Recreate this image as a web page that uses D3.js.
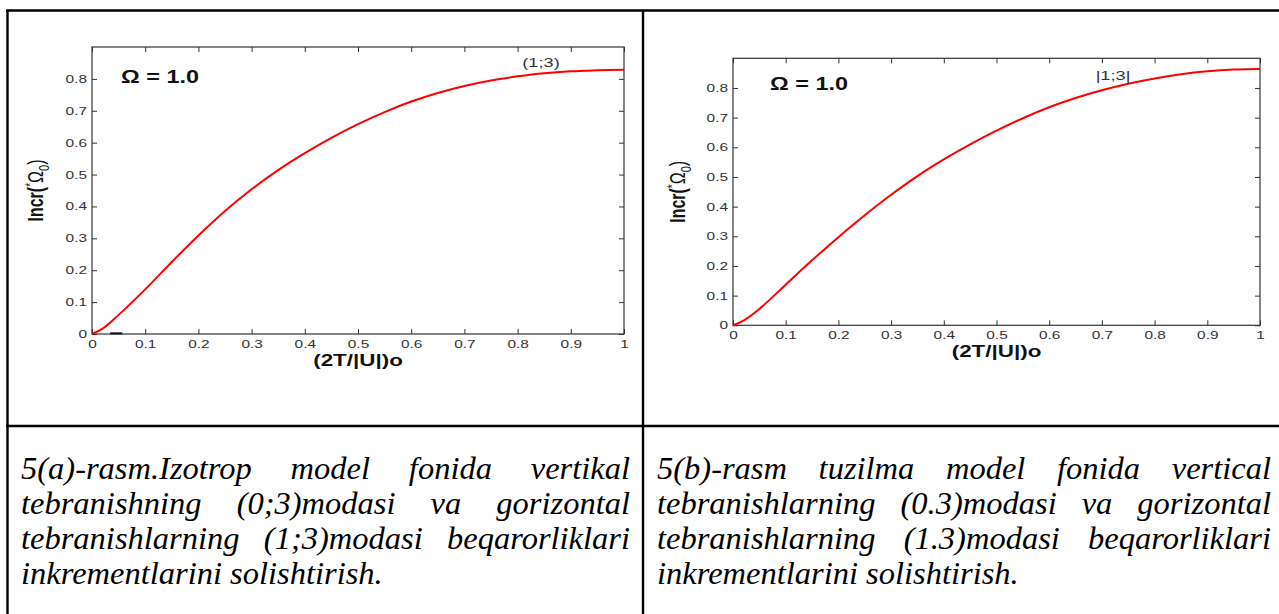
<!DOCTYPE html>
<html>
<head>
<meta charset="utf-8">
<script src="https://cdn.jsdelivr.net/npm/d3@7"></script>
<style>
  body { margin: 0; background: #fff; }
  svg { display: block; }
</style>
</head>
<body>
<div id="fig"></div>
<script>
// (1;3) mode increment, panel a (isotropic model)
var xA = [0, 0.02, 0.05, 0.1, 0.15, 0.2, 0.25, 0.3, 0.35, 0.4, 0.45, 0.5, 0.55, 0.6, 0.65, 0.7, 0.75, 0.8, 0.85, 0.9, 0.95, 1.0];
var yA = [0, 0.017, 0.060, 0.140, 0.226, 0.309, 0.386, 0.454, 0.514, 0.567, 0.615, 0.658, 0.696, 0.729, 0.756, 0.778, 0.795, 0.808, 0.818, 0.824, 0.827, 0.829];
// short (0;3) trace lying on the axis in panel a
var x03 = [0.034, 0.057];
var y03 = [0.002, 0.002];
// |1;3| mode increment, panel b (structured model)
var xB = [0, 0.02, 0.05, 0.1, 0.15, 0.2, 0.25, 0.3, 0.35, 0.4, 0.45, 0.5, 0.55, 0.6, 0.65, 0.7, 0.75, 0.8, 0.85, 0.9, 0.95, 1.0];
var yB = [0, 0.016, 0.055, 0.137, 0.219, 0.297, 0.371, 0.440, 0.503, 0.559, 0.610, 0.656, 0.698, 0.735, 0.766, 0.792, 0.814, 0.832, 0.846, 0.856, 0.862, 0.864];

var xTicks = [0, 0.1, 0.2, 0.3, 0.4, 0.5, 0.6, 0.7, 0.8, 0.9, 1];
var xTickLabels = ["0", "0.1", "0.2", "0.3", "0.4", "0.5", "0.6", "0.7", "0.8", "0.9", "1"];
var yTicks = [0, 0.1, 0.2, 0.3, 0.4, 0.5, 0.6, 0.7, 0.8];
var yTickLabels = ["0", "0.1", "0.2", "0.3", "0.4", "0.5", "0.6", "0.7", "0.8"];

var omegaLabel = "\u03A9 = 1.0";
var modeLabelA = "(1;3)";
var modeLabelB = "|1;3|";
var xTitle = "(2T/|U|)o";

var captionA = [
  "5(a)-rasm.Izotrop model fonida vertikal",
  "tebranishning (0;3)modasi va gorizontal",
  "tebranishlarning (1;3)modasi beqarorliklari",
  "inkrementlarini solishtirish."
];
var captionB = [
  "5(b)-rasm tuzilma model fonida vertical",
  "tebranishlarning (0.3)modasi va gorizontal",
  "tebranishlarning (1.3)modasi beqarorliklari",
  "inkrementlarini solishtirish."
];

var W = 1279, H = 614;
var stretch = 1.4; // the pasted figures are widened, text included
var sansFont = "'Liberation Sans', Arial, sans-serif";
var serifFont = "'Liberation Serif', 'Times New Roman', serif";

var svg = d3.select("#fig").append("svg")
  .attr("width", W)
  .attr("height", H);

svg.append("rect").attr("width", W).attr("height", H).attr("fill", "#fff");

function drawPanel(box, xs, ys, label, labelPos, omegaPos, extra) {
  var x = d3.scaleLinear().domain([0, 1]).range([box.left, box.right]);
  var y = d3.scaleLinear().domain([0, 0.9]).range([box.bottom, box.top]);
  var g = svg.append("g");

  function styleAxis(a) {
    a.select(".domain").remove();
    a.selectAll(".tick line").attr("stroke", "#333");
    a.selectAll("text")
      .attr("fill", "#333")
      .attr("font-family", sansFont)
      .attr("font-size", 11);
  }

  // bottom axis with labels
  g.append("g")
    .attr("transform", "translate(0," + box.bottom + ")")
    .call(d3.axisBottom(x).tickValues(xTicks)
      .tickFormat(function(d, i) { return xTickLabels[i]; })
      .tickSizeInner(-5).tickSizeOuter(0).tickPadding(6))
    .call(styleAxis)
    .selectAll("text").attr("transform", "scale(" + stretch + ",1)");

  // left axis with labels
  g.append("g")
    .attr("transform", "translate(" + box.left + ",0)")
    .call(d3.axisLeft(y).tickValues(yTicks)
      .tickFormat(function(d, i) { return yTickLabels[i]; })
      .tickSizeInner(-5).tickSizeOuter(0))
    .call(styleAxis)
    .selectAll("text")
      .attr("x", 0)
      .attr("transform", "translate(-5,0) scale(" + stretch + ",1)");

  // top and right ticks, no labels
  g.append("g")
    .attr("transform", "translate(0," + box.top + ")")
    .call(d3.axisTop(x).tickValues(xTicks).tickFormat("").tickSizeInner(-5).tickSizeOuter(0))
    .call(styleAxis);
  g.append("g")
    .attr("transform", "translate(" + box.right + ",0)")
    .call(d3.axisRight(y).tickValues(yTicks).tickFormat("").tickSizeInner(-5).tickSizeOuter(0))
    .call(styleAxis);

  g.append("rect")
    .attr("x", box.left).attr("y", box.top)
    .attr("width", box.right - box.left).attr("height", box.bottom - box.top)
    .attr("fill", "none").attr("stroke", "#333").attr("stroke-width", 1.2);

  var line = d3.line()
    .x(function(d) { return x(d[0]); })
    .y(function(d) { return y(d[1]); })
    .curve(d3.curveCatmullRom.alpha(0.5));

  if (extra) {
    g.append("path")
      .datum(d3.zip(extra.xs, extra.ys))
      .attr("d", line)
      .attr("fill", "none").attr("stroke", "#111").attr("stroke-width", 2);
  }

  g.append("path")
    .datum(d3.zip(xs, ys))
    .attr("d", line)
    .attr("fill", "none")
    .attr("stroke", "#ff0000")
    .attr("stroke-width", 2);

  // curve label
  g.append("text")
    .attr("transform", "translate(" + labelPos[0] + "," + labelPos[1] + ") scale(" + stretch + ",1)")
    .attr("text-anchor", "middle")
    .attr("font-family", sansFont).attr("font-size", 13)
    .attr("fill", "#333")
    .text(label);

  // omega
  g.append("text")
    .attr("transform", "translate(" + omegaPos[0] + "," + omegaPos[1] + ") scale(1.3,1)")
    .attr("font-family", sansFont).attr("font-size", 18).attr("font-weight", "bold")
    .attr("fill", "#111")
    .text(omegaLabel);

  // x title
  g.append("text")
    .attr("transform", "translate(" + (box.left + box.right) / 2 + "," + (box.bottom + 32) + ") scale(" + stretch + ",1)")
    .attr("text-anchor", "middle")
    .attr("font-family", sansFont).attr("font-size", 16).attr("font-weight", "bold")
    .attr("fill", "#111")
    .text(xTitle);

  // y title: Incr(*Ω0)
  var yt = g.append("text")
    .attr("transform", "translate(" + box.ylabelX + "," + (box.top + box.bottom) / 2 + ") scale(" + stretch + ",1) rotate(-90)")
    .attr("text-anchor", "middle")
    .attr("font-family", sansFont).attr("font-size", 16)
    .attr("fill", "#111");
  yt.append("tspan").attr("font-weight", "bold").text("Incr(");
  yt.append("tspan").attr("font-size", 10).attr("dy", -6).text("*");
  yt.append("tspan").attr("dy", 6).text("\u03A9");
  yt.append("tspan").attr("font-size", 11).attr("dy", 4).text("0");
  yt.append("tspan").attr("dy", -4).text(")");
}

drawPanel({left: 92, right: 624, top: 47, bottom: 334, ylabelX: 43},
  xA, yA, modeLabelA, [541, 67], [121, 83], {xs: x03, ys: y03});
drawPanel({left: 733, right: 1260, top: 58.3, bottom: 325.3, ylabelX: 685},
  xB, yB, modeLabelB, [1113, 80], [770, 90]);

// table grid
var grid = svg.append("g").attr("stroke", "#000").attr("stroke-width", 2.4);
grid.append("line").attr("x1", 6).attr("x2", W + 5).attr("y1", 10.5).attr("y2", 10.5);
grid.append("line").attr("x1", 7.5).attr("x2", 7.5).attr("y1", 10).attr("y2", H + 5);
grid.append("line").attr("x1", 643).attr("x2", 643).attr("y1", 10).attr("y2", H + 5);
grid.append("line").attr("x1", 6).attr("x2", W + 5).attr("y1", 426).attr("y2", 426);

// justified captions
function drawCaption(lines, x0, x1, y0, lh) {
  var g = svg.append("g")
    .attr("font-family", serifFont)
    .attr("font-style", "italic")
    .attr("font-size", 32.5)
    .attr("fill", "#000");
  lines.forEach(function(txt, i) {
    var t = g.append("text").attr("y", y0 + i * lh);
    if (i === lines.length - 1) {
      t.attr("x", x0).text(txt);
      return;
    }
    var words = txt.split(" ");
    var spans = words.map(function(w) { return t.append("tspan").text(w); });
    var widths = spans.map(function(s) { return s.node().getComputedTextLength(); });
    var gap = (x1 - x0 - d3.sum(widths)) / (words.length - 1);
    var cx = x0;
    spans.forEach(function(s, j) {
      s.attr("x", cx);
      cx += widths[j] + gap;
    });
  });
}

drawCaption(captionA, 21, 630, 479, 35);
drawCaption(captionB, 657, 1271, 479, 35);
</script>
</body>
</html>
